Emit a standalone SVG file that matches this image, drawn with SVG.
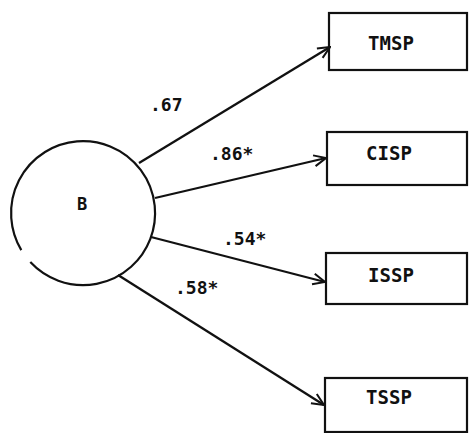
<svg xmlns="http://www.w3.org/2000/svg" width="469" height="433" viewBox="0 0 469 433">
  <defs>
    <marker id="arrow" viewBox="0 0 14 14" refX="13" refY="7" markerWidth="14" markerHeight="14" markerUnits="userSpaceOnUse" orient="auto">
      <path d="M1,1.5 L13,7 L1,12.5" fill="none" stroke="#111" stroke-width="2"/>
    </marker>
  </defs>
  <style>
    .box { fill: #fff; stroke: #111; stroke-width: 2.2; }
    .node-text { font-family: "DejaVu Sans Mono", "Liberation Mono", monospace; font-weight: bold; font-size: 19px; fill: #111; text-anchor: middle; dominant-baseline: central; }
    .edge { fill: none; stroke: #111; stroke-width: 2.3; marker-end: url(#arrow); }
    .label { font-family: "DejaVu Sans Mono", "Liberation Mono", monospace; font-weight: bold; font-size: 18px; fill: #111; }
  </style>
  <rect width="469" height="433" fill="#fff"/>

  <!-- latent factor -->
  <g id="B">
    <path d="M 30.3 262.1 A 72 72 0 1 0 21.3 250.1" fill="none" stroke="#111" stroke-width="2.2"/>
    <text class="node-text" x="82" y="204" style="font-size:17px">B</text>
  </g>

  <!-- indicators -->
  <g id="TMSP">
    <rect class="box" x="329" y="13" width="138" height="57"/>
    <text class="node-text" x="391" y="43">TMSP</text>
  </g>
  <g id="CISP">
    <rect class="box" x="327" y="132" width="140" height="53"/>
    <text class="node-text" x="389" y="153">CISP</text>
  </g>
  <g id="ISSP">
    <rect class="box" x="326" y="253" width="141" height="51"/>
    <text class="node-text" x="391" y="275">ISSP</text>
  </g>
  <g id="TSSP">
    <rect class="box" x="325" y="378" width="142" height="54"/>
    <text class="node-text" x="389" y="397">TSSP</text>
  </g>

  <!-- loadings -->
  <g id="connectors">
    <line class="edge" x1="139" y1="163" x2="330" y2="47"/>
    <line class="edge" x1="155" y1="198" x2="326" y2="158"/>
    <line class="edge" x1="151" y1="237" x2="325" y2="282"/>
    <line class="edge" x1="118" y1="275" x2="324" y2="405"/>
    <text class="label" x="150" y="111">.67</text>
    <text class="label" x="210" y="160">.86*</text>
    <text class="label" x="223" y="245">.54*</text>
    <text class="label" x="175" y="294">.58*</text>
  </g>
</svg>
